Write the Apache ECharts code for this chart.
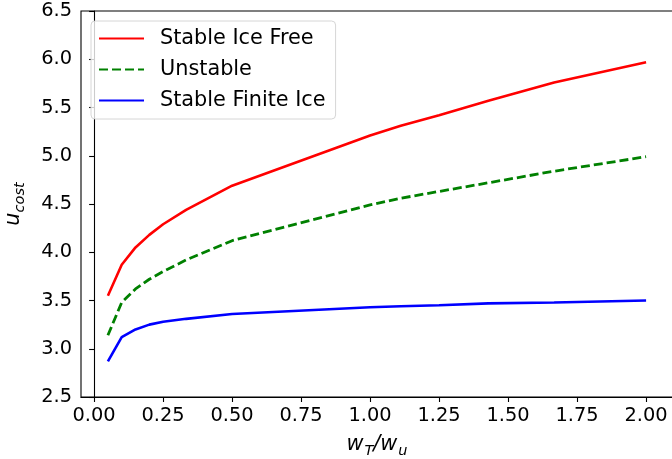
<!DOCTYPE html>
<html>
<head>
<meta charset="utf-8">
<script src="https://cdn.jsdelivr.net/npm/echarts@6/dist/echarts.min.js"></script>
<style>
html,body{margin:0;padding:0;background:#fff;}
#c{width:672px;height:459px;}
</style>
</head>
<body>
<div id="c"></div>
<script>
const xValues = [0.05, 0.1, 0.15, 0.2, 0.25, 0.3333, 0.5, 1.0, 1.1111, 1.25, 1.4286, 1.6667, 2.0];
const stableIceFree = [3.55, 3.87, 4.05, 4.18, 4.29, 4.44, 4.69, 5.21, 5.31, 5.42, 5.57, 5.76, 5.97];
const unstable      = [3.14, 3.48, 3.62, 3.72, 3.80, 3.92, 4.12, 4.49, 4.56, 4.63, 4.72, 4.84, 4.99];
const stableFinite  = [2.87, 3.12, 3.20, 3.25, 3.28, 3.31, 3.36, 3.43, 3.44, 3.45, 3.47, 3.48, 3.50];
const xTicks = [0, 0.25, 0.5, 0.75, 1.0, 1.25, 1.5, 1.75, 2.0];
const yTicks = [2.5, 3.0, 3.5, 4.0, 4.5, 5.0, 5.5, 6.0, 6.5];

const FONT = 'DejaVu Sans';
const pairs = (ys) => xValues.map((x, i) => [x, ys[i]]);

const chart = echarts.init(document.getElementById('c'), null, {renderer: 'canvas'});
chart.setOption({
  animation: false,
  backgroundColor: '#ffffff',
  textStyle: {fontFamily: FONT},
  grid: {left: 81, top: 11, width: 592, height: 386, containLabel: false, outerBoundsMode: 'none', show: true, borderColor: '#000', borderWidth: 1.1, backgroundColor: 'transparent'},
  legend: {
    orient: 'vertical',
    left: 91, top: 21,
    padding: [7, 10, 8, 7],
    itemWidth: 45, itemHeight: 14, itemGap: 10,
    borderColor: '#d6d6d6', borderWidth: 1, borderRadius: 4,
    backgroundColor: 'rgba(255,255,255,0.8)',
    itemStyle: {opacity: 0},
    textStyle: {fontFamily: FONT, fontSize: 20.8, color: '#000', lineHeight: 21, padding: [0, 0, 0, 11]},
    data: ['Stable Ice Free', 'Unstable', 'Stable Finite Ice']
  },
  xAxis: {
    type: 'value', min: -0.0475, max: 2.0975,
    axisLine: {show: true, lineStyle: {color: '#000', width: 1.1}},
    axisTick: {show: true, length: 5, lineStyle: {color: '#000', width: 1.1}, customValues: xTicks},
    axisLabel: {customValues: xTicks, formatter: v => v.toFixed(2), fontFamily: FONT, fontSize: 19.4, color: '#000', margin: 9},
    splitLine: {show: false},
    name: '{i|w}{s|T}{i|/w}{s|u}',
    nameLocation: 'middle', nameGap: 37,
    nameTextStyle: {
      rich: {
        i: {fontFamily: FONT, fontStyle: 'italic', fontSize: 20.8, color: '#000', lineHeight: 26, verticalAlign: 'top'},
        s: {fontFamily: FONT, fontStyle: 'italic', fontSize: 14.5, color: '#000', lineHeight: 26, verticalAlign: 'top', padding: [10, 0, 0, 1]}
      }
    }
  },
  yAxis: {
    type: 'value', min: 2.5, max: 6.5, interval: 0.5,
    axisLine: {show: true, lineStyle: {color: '#000', width: 1.1}},
    axisTick: {show: true, length: 5, lineStyle: {color: '#000', width: 1.1}},
    axisLabel: {formatter: v => v.toFixed(1), fontFamily: FONT, fontSize: 19.4, color: '#000', margin: 9},
    splitLine: {show: false},
    name: '{i|u}{s|cost}',
    nameLocation: 'middle', nameGap: 52, nameRotate: 90,
    nameTextStyle: {
      rich: {
        i: {fontFamily: FONT, fontStyle: 'italic', fontSize: 20.8, color: '#000', lineHeight: 26, verticalAlign: 'top'},
        s: {fontFamily: FONT, fontStyle: 'italic', fontSize: 14.5, color: '#000', lineHeight: 26, verticalAlign: 'top', padding: [10, 0, 0, 0]}
      }
    }
  },
  series: [
    {name: 'Stable Ice Free', type: 'line', data: pairs(stableIceFree), symbol: 'none', lineStyle: {color: '#ff0000', width: 2.6}, itemStyle: {color: '#ff0000'}},
    {name: 'Unstable', type: 'line', data: pairs(unstable), symbol: 'none', lineStyle: {color: '#008000', width: 2.8, type: [9, 4]}, itemStyle: {color: '#008000'}},
    {name: 'Stable Finite Ice', type: 'line', data: pairs(stableFinite), symbol: 'none', lineStyle: {color: '#0000ff', width: 2.6}, itemStyle: {color: '#0000ff'}}
  ]
});
</script>
</body>
</html>
